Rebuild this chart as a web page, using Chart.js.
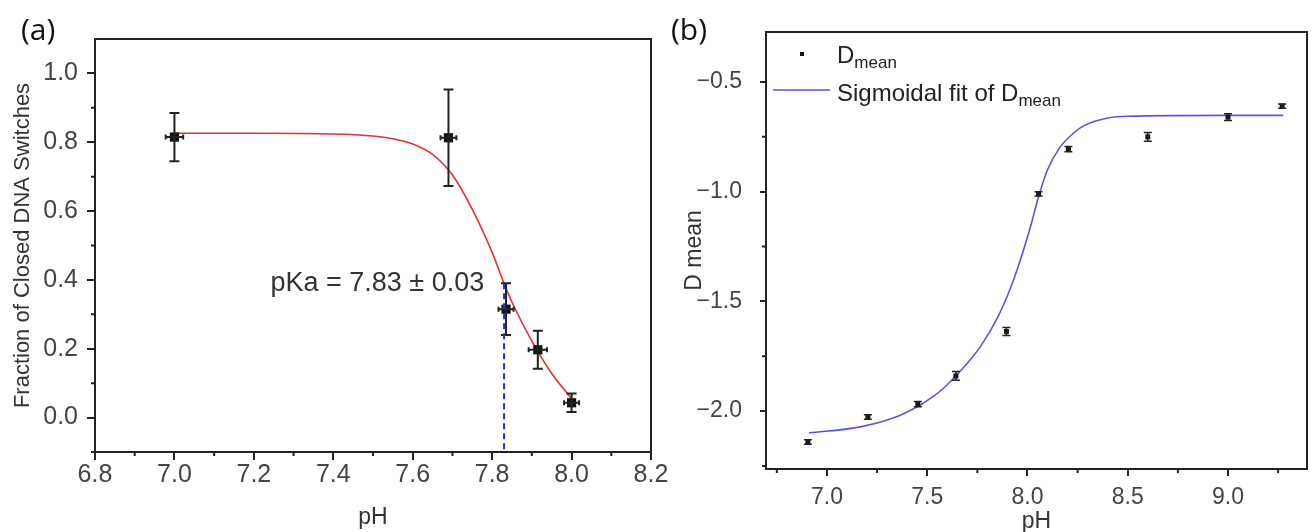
<!DOCTYPE html>
<html lang="en">
<head>
<meta charset="utf-8">
<script src="https://cdn.jsdelivr.net/npm/chart.js@4.4.0/dist/chart.umd.min.js"></script>
<style>
  body { margin: 0; background: #fff; width: 1312px; height: 532px; overflow: hidden; position: relative; }
  canvas { position: absolute; top: 0; }
  #chartA { left: 0; }
  #chartB { left: 656px; }
  .panel { position: absolute; font-family: "Open Sans", Lato, sans-serif; font-size: 30px; color: #111; line-height: 1; }
</style>
</head>
<body>
<canvas id="chartA" width="700" height="532"></canvas>
<canvas id="chartB" width="656" height="532"></canvas>
<div class="panel" style="left:21px; top:14px;">(a)</div>
<div class="panel" style="left:671px; top:14px;">(b)</div>
<script>
// ---- panel (a): fraction of closed switches vs pH ----
const phA = [7.0, 7.69, 7.835, 7.915, 8.0];
const fracA = [0.815, 0.813, 0.315, 0.197, 0.043];
const fracErrA = [0.07, 0.14, 0.075, 0.055, 0.027];
const phErrA = [0.022, 0.02, 0.019, 0.023, 0.019];
// fit curve
const fitPhA = [7.0, 7.2, 7.4, 7.5, 7.55, 7.6, 7.65, 7.7, 7.75, 7.8, 7.83, 7.85, 7.9, 7.95, 8.0];
const fitFracA = [0.826, 0.826, 0.824, 0.818, 0.81, 0.795, 0.765, 0.705, 0.605, 0.48, 0.39, 0.335, 0.222, 0.128, 0.055];
const pkaValue = 7.83, pkaErr = 0.03, pkaLevel = 0.39;
const xTicksA = [6.8, 7.0, 7.2, 7.4, 7.6, 7.8, 8.0, 8.2];
const xMinorA = [6.9, 7.1, 7.3, 7.5, 7.7, 7.9, 8.1];
const yTicksA = [0.0, 0.2, 0.4, 0.6, 0.8, 1.0];
const yMinorA = [-0.1, 0.1, 0.3, 0.5, 0.7, 0.9];

// ---- panel (b): D mean vs pH ----
const phB = [6.905, 7.204, 7.453, 7.643, 7.895, 8.055, 8.204, 8.6, 9.0, 9.27];
const dMeanB = [-2.141, -2.027, -1.968, -1.84, -1.637, -1.01, -0.806, -0.75, -0.66, -0.61];
const dErrB = [0.01, 0.01, 0.012, 0.02, 0.018, 0.01, 0.012, 0.02, 0.015, 0.01];
const fitPhB = [6.91, 7.16, 7.33, 7.45, 7.52, 7.58, 7.642, 7.70, 7.766, 7.85, 7.915, 7.965, 8.015, 8.05, 8.1, 8.16, 8.215, 8.28, 8.4, 8.5, 9.0, 9.275];
const fitDB = [-2.10, -2.073, -2.032, -1.98, -1.94, -1.897, -1.84, -1.782, -1.705, -1.575, -1.44, -1.31, -1.16, -1.04, -0.9, -0.8, -0.745, -0.7, -0.664, -0.656, -0.652, -0.652];
const xTicksB = [7.0, 7.5, 8.0, 8.5, 9.0];
const xMinorB = [6.75, 7.25, 7.75, 8.25, 8.75, 9.25];
const yTicksB = [-2.0, -1.5, -1.0, -0.5];
const yMinorB = [-2.25, -1.75, -1.25, -0.75];

const FONT = 'Liberation Sans, Arial, sans-serif';
const toXY = (xs, ys) => xs.map((x, i) => ({ x: x, y: ys[i] }));

// box around the plot plus short minor ticks
function makeFrame(xMinor, yMinor, len) {
  return {
    id: 'frame',
    afterDraw(chart) {
      const { ctx, chartArea: a, scales: { x, y } } = chart;
      ctx.save();
      ctx.strokeStyle = '#222';
      ctx.lineWidth = 2;
      ctx.strokeRect(a.left, a.top, a.right - a.left, a.bottom - a.top);
      ctx.beginPath();
      xMinor.forEach(v => {
        const px = x.getPixelForValue(v);
        ctx.moveTo(px, a.bottom); ctx.lineTo(px, a.bottom + len);
      });
      yMinor.forEach(v => {
        const py = y.getPixelForValue(v);
        ctx.moveTo(a.left, py); ctx.lineTo(a.left - len, py);
      });
      ctx.stroke();
      ctx.restore();
    }
  };
}

function makeErrorBars(xs, ys, yErr, xErr, cap, width) {
  return {
    id: 'errorBars',
    afterDatasetsDraw(chart) {
      const { ctx, scales: { x, y } } = chart;
      ctx.save();
      ctx.strokeStyle = '#222';
      ctx.lineWidth = width;
      ctx.beginPath();
      xs.forEach((xv, i) => {
        const px = x.getPixelForValue(xv), py = y.getPixelForValue(ys[i]);
        if (yErr) {
          const t = y.getPixelForValue(ys[i] + yErr[i]), b = y.getPixelForValue(ys[i] - yErr[i]);
          ctx.moveTo(px, t); ctx.lineTo(px, b);
          ctx.moveTo(px - cap, t); ctx.lineTo(px + cap, t);
          ctx.moveTo(px - cap, b); ctx.lineTo(px + cap, b);
        }
        if (xErr) {
          const l = x.getPixelForValue(xv - xErr[i]), r = x.getPixelForValue(xv + xErr[i]);
          ctx.moveTo(l, py); ctx.lineTo(r, py);
          ctx.moveTo(l, py - cap * 0.5); ctx.lineTo(l, py + cap * 0.5);
          ctx.moveTo(r, py - cap * 0.5); ctx.lineTo(r, py + cap * 0.5);
        }
      });
      ctx.stroke();
      ctx.restore();
    }
  };
}

// dashed pKa marker and its label
const pkaMark = {
  id: 'pkaMark',
  afterDatasetsDraw(chart) {
    const { ctx, chartArea: a, scales: { x, y } } = chart;
    const px = x.getPixelForValue(pkaValue);
    ctx.save();
    ctx.strokeStyle = '#1f2fe0';
    ctx.lineWidth = 2;
    ctx.setLineDash([6, 4]);
    ctx.beginPath();
    ctx.moveTo(px, y.getPixelForValue(pkaLevel));
    ctx.lineTo(px, a.bottom);
    ctx.stroke();
    ctx.setLineDash([]);
    ctx.fillStyle = '#333';
    ctx.font = '27px ' + FONT;
    ctx.textAlign = 'right';
    ctx.textBaseline = 'middle';
    ctx.fillText('pKa = ' + pkaValue.toFixed(2) + ' \u00b1 ' + pkaErr.toFixed(2),
      x.getPixelForValue(pkaValue - 0.05), y.getPixelForValue(pkaLevel));
    ctx.restore();
  }
};

// legend with subscripts for panel (b)
const legendB = {
  id: 'legendB',
  afterDraw(chart) {
    const { ctx, chartArea: a } = chart;
    const pts = chart.data.datasets[0], fit = chart.data.datasets[1];
    const tx = a.left + 71;
    ctx.save();
    ctx.fillStyle = pts.backgroundColor;
    ctx.fillRect(a.left + 34, a.top + 20, 4, 4);
    ctx.strokeStyle = fit.borderColor;
    ctx.lineWidth = 1.5;
    ctx.beginPath();
    ctx.moveTo(a.left + 7, a.top + 58); ctx.lineTo(a.left + 64, a.top + 58);
    ctx.stroke();
    ctx.fillStyle = '#222';
    ctx.textBaseline = 'alphabetic';
    const row = (label, base) => {
      ctx.font = '24px ' + FONT;
      ctx.fillText(label, tx, base);
      const w = ctx.measureText(label).width;
      ctx.font = '17px ' + FONT;
      ctx.fillText('mean', tx + w, base + 5);
    };
    row('D', a.top + 31);
    row('Sigmoidal fit of D', a.top + 69);
    ctx.restore();
  }
};

function axis(min, max, ticks, fmt, size, tickLen, pad, fitSize, horizontal, title, tsize, tpad) {
  return {
    type: 'linear', min: min, max: max,
    afterBuildTicks: s => { s.ticks = ticks.map(v => ({ value: v })); },
    afterFit: s => {
      if (horizontal) { s.height = fitSize; s.paddingLeft = 0; s.paddingRight = 0; }
      else { s.width = fitSize; s.paddingTop = 0; s.paddingBottom = 0; }
    },
    grid: { drawOnChartArea: false, tickLength: tickLen, color: '#222', lineWidth: 2 },
    border: { display: false },
    ticks: { color: '#444', font: { family: FONT, size: size, lineHeight: 1 }, padding: pad, maxRotation: 0, autoSkip: false, callback: fmt },
    title: { display: true, text: title, color: '#333', font: { family: FONT, size: tsize, lineHeight: 1 }, padding: tpad }
  };
}

const fixed1 = v => v.toFixed(1);
const minus1 = v => (v < 0 ? '\u2212' : '') + Math.abs(v).toFixed(1);

new Chart(document.getElementById('chartA'), {
  type: 'scatter',
  data: {
    datasets: [
      { data: toXY(phA, fracA), pointStyle: 'rect', pointRadius: 6.5, backgroundColor: '#111', borderWidth: 0 },
      { data: toXY(fitPhA, fitFracA), showLine: true, pointRadius: 0, borderColor: '#e8302f', borderWidth: 1.6, cubicInterpolationMode: 'monotone' }
    ]
  },
  options: {
    responsive: false, animation: false, events: [],
    layout: { padding: { top: 39, right: 49, left: 0, bottom: 0 } },
    plugins: { legend: { display: false }, tooltip: { enabled: false } },
    scales: {
      x: axis(6.8, 8.2, xTicksA, fixed1, 25, 8, 3, 80, true, 'pH', 23, { top: 0, bottom: 3 }),
      y: axis(-0.1, 1.1, yTicksA, fixed1, 25, 8, 9, 95, false, 'Fraction of Closed DNA Switches', 22, { top: 12, bottom: 0 })
    }
  },
  plugins: [makeFrame(xMinorA, yMinorA, 4), makeErrorBars(phA, fracA, fracErrA, phErrA, 5, 2), pkaMark]
});

new Chart(document.getElementById('chartB'), {
  type: 'scatter',
  data: {
    datasets: [
      { label: 'Dmean', data: toXY(phB, dMeanB), pointStyle: 'rect', pointRadius: 3.5, backgroundColor: '#111', borderWidth: 0 },
      { label: 'Sigmoidal fit of Dmean', data: toXY(fitPhB, fitDB), showLine: true, pointRadius: 0, borderColor: '#5a55e0', borderWidth: 1.6, cubicInterpolationMode: 'monotone' }
    ]
  },
  options: {
    responsive: false, animation: false, events: [],
    layout: { padding: { top: 32, right: 5, left: 0, bottom: 0 } },
    plugins: { legend: { display: false }, tooltip: { enabled: false } },
    scales: {
      x: axis(6.696, 9.394, xTicksB, fixed1, 23, 7, 10, 63, true, 'pH', 23, { top: 0, bottom: -1 }),
      y: axis(-2.264, -0.272, yTicksB, minus1, 23, 6, 18, 110, false, 'D mean', 23, { top: 27, bottom: 0 })
    }
  },
  plugins: [makeFrame(xMinorB, yMinorB, 4), makeErrorBars(phB, dMeanB, dErrB, null, 4, 1.5), legendB]
});
</script>
</body>
</html>
